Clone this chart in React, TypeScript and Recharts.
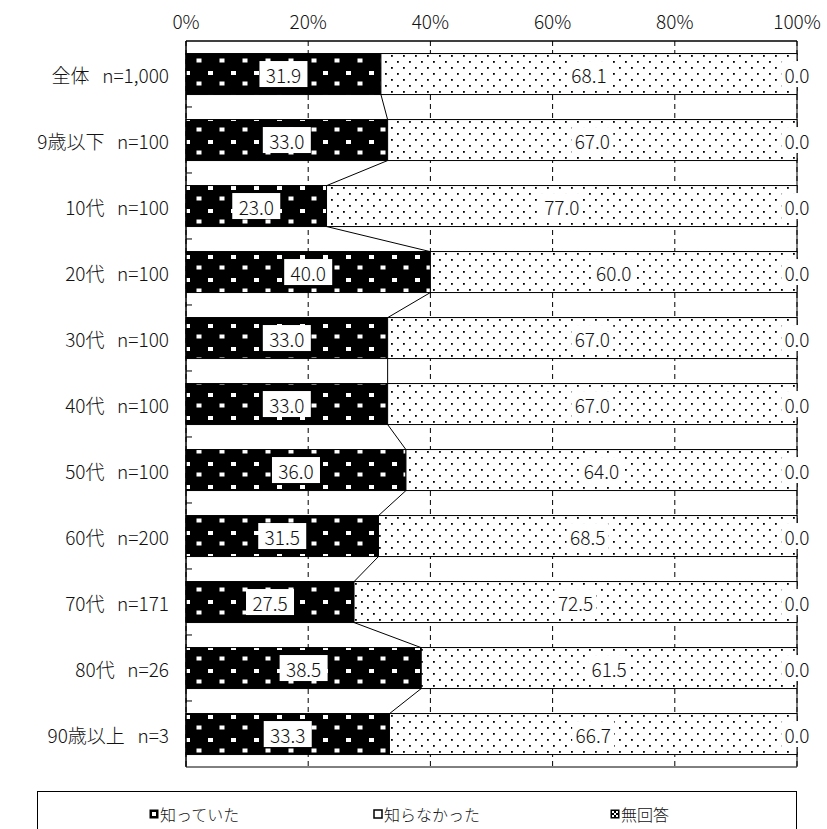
import React from "react"
import {
  BarChart,
  Bar,
  XAxis,
  YAxis,
  CartesianGrid,
  ReferenceArea,
  LabelList,
  Legend
} from "recharts"

const SP = "\u00A0\u00A0\u00A0"
const categories = [
  `全体${SP}n=1,000`,
  `9歳以下${SP}n=100`,
  `10代${SP}n=100`,
  `20代${SP}n=100`,
  `30代${SP}n=100`,
  `40代${SP}n=100`,
  `50代${SP}n=100`,
  `60代${SP}n=200`,
  `70代${SP}n=171`,
  `80代${SP}n=26`,
  `90歳以上${SP}n=3`
]
const knew = [31.9, 33.0, 23.0, 40.0, 33.0, 33.0, 36.0, 31.5, 27.5, 38.5, 33.3]
const didNotKnow = [68.1, 67.0, 77.0, 60.0, 67.0, 67.0, 64.0, 68.5, 72.5, 61.5, 66.7]
const noAnswer = [0, 0, 0, 0, 0, 0, 0, 0, 0, 0, 0]
const seriesNames = ["知っていた", "知らなかった", "無回答"]
const xTicks = [0, 20, 40, 60, 80, 100]

const data = categories.map((name, i) => ({
  name,
  knew: knew[i],
  didNotKnow: didNotKnow[i],
  noAnswer: noAnswer[i]
}))

const GAP = 0.19 // barCategoryGap, each side
const FONT = '"Noto Sans CJK JP", "Noto Sans", sans-serif'
const WEIGHT = 300

// first series: pattern bar + series line to the next bar + category boundary tick
function KnewShape(props: any) {
  const { x, y, width, height, index } = props
  const step = height / (1 - 2 * GAP)
  const next = knew[index + 1]
  return (
    <g>
      <rect x={x} y={y} width={width} height={height} fill="url(#patKnew)" stroke="#000" />
      {index > 0 && (
        <line x1={x} x2={x + 6} y1={y - GAP * step} y2={y - GAP * step} stroke="#000" />
      )}
      {next !== undefined && (
        <line
          x1={x + width}
          y1={y + height}
          x2={x + (width * next) / knew[index]}
          y2={y + step}
          stroke="#000"
        />
      )}
    </g>
  )
}

function DottedShape(props: any) {
  const { x, y, width, height } = props
  if (!width) return null
  return <rect x={x} y={y} width={width} height={height} fill="url(#patNot)" stroke="#000" />
}

const makeLabel = (values: number[], pad: number) => (props: any) => {
  const box = props.viewBox ?? props
  const { x, y, width, height } = box
  const text = values[props.index].toFixed(1)
  const cx = x + width / 2
  const cy = y + height / 2
  const w = text.length * 10.5 + pad
  return (
    <g>
      <rect x={cx - w / 2} y={cy - 13} width={w} height={26} fill="#fff" />
      <text
        x={cx}
        y={cy}
        textAnchor="middle"
        dominantBaseline="central"
        fontSize={19}
        fontFamily={FONT}
        fontWeight={WEIGHT}
        fill="#111"
      >
        {text}
      </text>
    </g>
  )
}

function XTick({ x, y, payload }: any) {
  return (
    <text x={x} y={y} textAnchor="middle" fontSize={19} fontFamily={FONT} fontWeight={WEIGHT} fill="#111">
      {payload.value}%
    </text>
  )
}

function YTick({ x, y, payload }: any) {
  return (
    <text
      x={x}
      y={y}
      textAnchor="end"
      dominantBaseline="central"
      fontSize={19}
      fontFamily={FONT}
      fontWeight={WEIGHT}
      fill="#111"
    >
      {payload.value}
    </text>
  )
}

function Marker({ i }: { i: number }) {
  if (i === 0)
    return (
      <svg width={10} height={10} style={{ marginRight: 1 }}>
        <rect x={0.5} y={0.5} width={9} height={9} fill="#000" />
        <rect x={3} y={3} width={4} height={4} fill="#fff" />
      </svg>
    )
  if (i === 1)
    return (
      <svg width={10} height={10} style={{ marginRight: 1 }}>
        <rect x={1} y={1} width={8} height={8} fill="#fff" stroke="#000" strokeWidth={1.5} />
      </svg>
    )
  return (
    <svg width={10} height={10} style={{ marginRight: 1 }}>
      <rect x={0.5} y={0.5} width={9} height={9} fill="#000" />
      <rect x={2} y={2} width={2} height={2} fill="#fff" />
      <rect x={6} y={2} width={2} height={2} fill="#fff" />
      <rect x={4} y={4} width={2} height={2} fill="#fff" />
      <rect x={2} y={6} width={2} height={2} fill="#fff" />
      <rect x={6} y={6} width={2} height={2} fill="#fff" />
    </svg>
  )
}

const legendLeft = [111, 335, 572]

function LegendBox() {
  return (
    <div
      style={{
        border: "1px solid #000",
        height: 50,
        position: "relative",
        background: "#fff",
        fontFamily: FONT,
        fontWeight: WEIGHT,
        fontSize: 16,
        color: "#111"
      }}
    >
      {seriesNames.map((n, i) => (
        <div
          key={n}
          style={{
            position: "absolute",
            left: legendLeft[i],
            top: 10,
            display: "flex",
            alignItems: "center",
            whiteSpace: "nowrap"
          }}
        >
          <Marker i={i} />
          {n}
        </div>
      ))}
    </div>
  )
}

export default function App() {
  return (
    <div style={{ position: "absolute", left: 0, top: 0, background: "#fff" }}>
      <BarChart
        width={827}
        height={829}
        data={data}
        layout="vertical"
        barCategoryGap={`${GAP * 100}%`}
        margin={{ top: 0, right: 30, bottom: 62, left: 0 }}
      >
        <defs>
          <pattern id="patKnew" patternUnits="userSpaceOnUse" width={23} height={23}>
            <rect width={23} height={23} fill="#000" />
            <rect x={1} y={2} width={5} height={4} fill="#fff" />
            <rect x={12.5} y={12.5} width={5} height={4} fill="#fff" />
          </pattern>
          <pattern id="patNot" patternUnits="userSpaceOnUse" width={12} height={12}>
            <rect width={12} height={12} fill="#fff" />
            <rect x={1} y={1} width={1.8} height={1.8} fill="#000" />
            <rect x={7} y={7} width={1.8} height={1.8} fill="#000" />
          </pattern>
        </defs>
        <CartesianGrid horizontal={false} stroke="#000" strokeDasharray="5 4" />
        <XAxis
          type="number"
          orientation="top"
          domain={[0, 100]}
          ticks={xTicks}
          height={41}
          tickLine={false}
          tickSize={0}
          tickMargin={12}
          axisLine={{ stroke: "#000" }}
          tick={<XTick />}
        />
        <YAxis
          type="category"
          dataKey="name"
          width={186}
          tickLine={false}
          tickSize={0}
          tickMargin={17}
          axisLine={{ stroke: "#000" }}
          tick={<YTick />}
        />
        <ReferenceArea x1={0} x2={100} fill="none" stroke="#000" />
        <Bar
          dataKey="knew"
          name={seriesNames[0]}
          stackId="a"
          shape={<KnewShape />}
          isAnimationActive={false}
        >
          <LabelList dataKey="knew" content={makeLabel(knew, 6)} />
        </Bar>
        <Bar
          dataKey="didNotKnow"
          name={seriesNames[1]}
          stackId="a"
          shape={<DottedShape />}
          isAnimationActive={false}
        >
          <LabelList dataKey="didNotKnow" content={makeLabel(didNotKnow, 0)} />
        </Bar>
        <Bar
          dataKey="noAnswer"
          name={seriesNames[2]}
          stackId="a"
          shape={<DottedShape />}
          isAnimationActive={false}
        >
          <LabelList dataKey="noAnswer" content={makeLabel(noAnswer, 0)} />
        </Bar>
        <Legend
          verticalAlign="middle"
          align="center"
          layout="horizontal"
          wrapperStyle={{ left: 37, top: 791, width: 760 }}
          content={<LegendBox />}
        />
      </BarChart>
    </div>
  )
}
